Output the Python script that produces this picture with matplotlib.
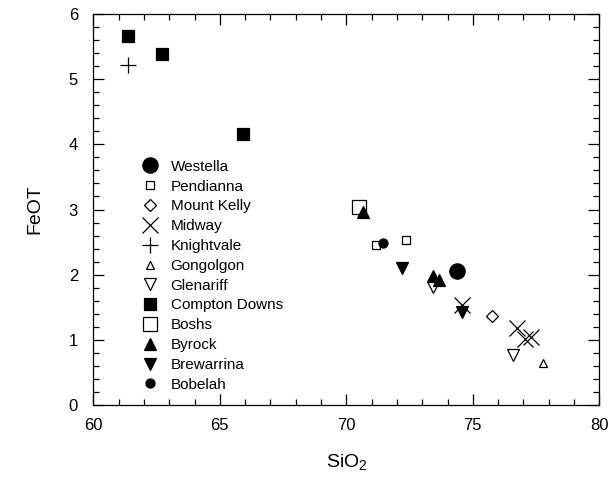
import matplotlib
matplotlib.use("Agg")
import matplotlib.pyplot as plt
from matplotlib.ticker import MultipleLocator

plt.rcParams['font.family'] = ['Liberation Sans', 'DejaVu Sans']
plt.rcParams['mathtext.fontset'] = 'custom'
plt.rcParams['mathtext.rm'] = 'Liberation Sans'
plt.rcParams['mathtext.it'] = 'Liberation Sans'

# Data (SiO2, FeOT) per locality
groups = ["Westella", "Pendianna", "Mount Kelly", "Midway", "Knightvale", "Gongolgon",
          "Glenariff", "Compton Downs", "Boshs", "Byrock", "Brewarrina", "Bobelah"]
westella_x = [74.36]; westella_y = [2.06]
pendianna_x = [71.17, 72.36]; pendianna_y = [2.45, 2.53]
mountkelly_x = [75.75]; mountkelly_y = [1.36]
midway_x = [74.56, 76.73, 77.06, 77.29]; midway_y = [1.53, 1.18, 1.02, 1.05]
knightvale_x = [61.36]; knightvale_y = [5.21]
gongolgon_x = [77.76]; gongolgon_y = [0.65]
glenariff_x = [73.41, 76.58]; glenariff_y = [1.81, 0.77]
compton_x = [61.39, 62.73, 65.92]; compton_y = [5.67, 5.38, 4.16]
boshs_x = [70.49]; boshs_y = [3.04]
byrock_x = [70.67, 73.44, 73.68]; byrock_y = [2.96, 1.98, 1.92]
brewarrina_x = [72.19, 74.56]; brewarrina_y = [2.10, 1.42]
bobelah_x = [71.46]; bobelah_y = [2.48]

xs = [westella_x, pendianna_x, mountkelly_x, midway_x, knightvale_x, gongolgon_x,
      glenariff_x, compton_x, boshs_x, byrock_x, brewarrina_x, bobelah_x]
ys = [westella_y, pendianna_y, mountkelly_y, midway_y, knightvale_y, gongolgon_y,
      glenariff_y, compton_y, boshs_y, byrock_y, brewarrina_y, bobelah_y]

# (marker, filled, markersize)
styles = [('o', True, 11), ('s', False, 6), ('D', False, 6), ('x', True, 11),
          ('+', True, 11), ('^', False, 6), ('v', False, 8), ('s', True, 9),
          ('s', False, 10.5), ('^', True, 8), ('v', True, 8), ('o', True, 6.5)]

fig = plt.figure(figsize=(6.11, 4.84), dpi=100)
ax = fig.add_axes([93.3/611, 79/484, (599.3-93.3)/611, (405-14)/484])

for name, x, y, (m, filled, ms) in zip(groups, xs, ys, styles):
    ax.plot(x, y, linestyle='none', marker=m, markersize=ms,
            markerfacecolor='black' if filled else 'white',
            markeredgecolor='black', markeredgewidth=0.9, label=name)

ax.set_xlim(60, 80)
ax.set_ylim(0, 6)
ax.xaxis.set_major_locator(MultipleLocator(5))
ax.xaxis.set_minor_locator(MultipleLocator(1))
ax.yaxis.set_major_locator(MultipleLocator(1))
ax.yaxis.set_minor_locator(MultipleLocator(0.2))
ax.tick_params(which='both', direction='in', top=True, right=True, labelsize=12, width=0.9)
ax.tick_params(axis='x', which='major', length=8, pad=9)
ax.tick_params(axis='y', which='major', length=8, pad=11)
ax.tick_params(which='minor', length=4.5)
for s in ax.spines.values():
    s.set_linewidth(0.9)

ax.set_xlabel('SiO$_2$', fontsize=14, labelpad=14)
ax.set_ylabel('FeOT', fontsize=14, labelpad=18)

leg = ax.legend(loc='upper left', bbox_to_anchor=(0.089, 0.627), frameon=False,
                fontsize=11, labelspacing=0.38, handletextpad=0.62, borderaxespad=0,
                borderpad=0, handlelength=1.5, numpoints=1)

fig.savefig('out.png', dpi=100)
